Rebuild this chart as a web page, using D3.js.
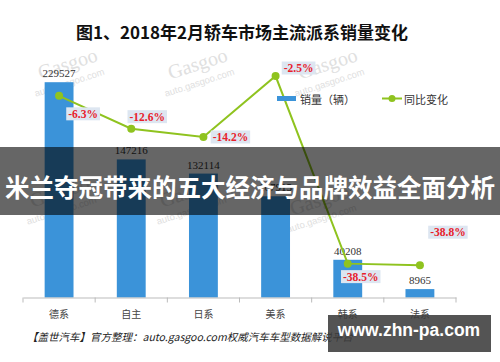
<!DOCTYPE html>
<html>
<head>
<meta charset="utf-8">
<script src="https://cdn.jsdelivr.net/npm/d3@7"></script>
<style>
  body { margin: 0; background: #fff; }
  svg { display: block; }
</style>
</head>
<body>
<div id="chart"></div>
<script>
// data
const categories = ["德系", "自主", "日系", "美系", "韩系", "法系"];
const sales = [229527, 147216, 132114, 107915, 40208, 8965];
const salesLabels = ["229527", "147216", "132114", "107915", "40208", "8965"];
const yoyChange = [-6.3, -12.6, -14.2, -2.5, -38.5, -38.8];
const yoyLabels = ["-6.3%", "-12.6%", "-14.2%", "-2.5%", "-38.5%", "-38.8%"];

// label placement relative to each point (layout only)
const yoyLabelOffset = [[24, 18], [16, -12], [27, 0], [23, -8], [13, 13], [28, -33]];

const width = 500, height = 362;
const plotLeft = 23, plotRight = 456, plotTop = 63, plotBottom = 297.5;

const svg = d3.select("#chart").append("svg")
  .attr("width", width)
  .attr("height", height);

svg.append("rect").attr("width", width).attr("height", height).attr("fill", "#fff");

// title
svg.append("text")
  .attr("x", 242).attr("y", 39)
  .attr("text-anchor", "middle")
  .attr("font-family", "Noto Sans CJK SC")
  .attr("font-weight", "bold")
  .attr("font-size", 17)
  .attr("fill", "#111")
  .text("图1、2018年2月轿车市场主流派系销量变化");

// faint gasgoo watermarks
const marks = [[68, 78], [198, 78], [328, 78], [60, 206], [190, 206], [320, 214]];
marks.forEach(m => {
  const g = svg.append("g")
    .attr("transform", `translate(${m[0]},${m[1]}) rotate(-18)`)
    .attr("fill", "#e0e0e0")
    .attr("font-family", "Liberation Sans");
  g.append("text").attr("x", 4).attr("y", -7).attr("text-anchor", "middle")
    .attr("font-size", 20).attr("font-family", "Liberation Serif").text("Gasgoo");
  g.append("text").attr("x", 0).attr("y", 8).attr("text-anchor", "middle")
    .attr("font-size", 9.5).text("auto.gasgoo.com");
});

// scales
const x = d3.scaleBand()
  .domain(categories)
  .range([plotLeft, plotRight])
  .paddingInner(0.6)
  .paddingOuter(0.3);

const yLeft = d3.scaleLinear().domain([0, 250000]).range([plotBottom, plotTop]);
const yRight = d3.scaleLinear().domain([-45, 0]).range([plotBottom, plotTop]);

const cx = d => x(d) + x.bandwidth() / 2;

// bars
svg.selectAll(".bar")
  .data(categories)
  .enter().append("rect")
  .attr("x", d => x(d))
  .attr("y", (d, i) => yLeft(sales[i]))
  .attr("width", x.bandwidth())
  .attr("height", (d, i) => plotBottom - yLeft(sales[i]))
  .attr("fill", "#3b93d9");

svg.selectAll(".barLabel")
  .data(categories)
  .enter().append("text")
  .attr("x", d => cx(d))
  .attr("y", (d, i) => yLeft(sales[i]) - 5)
  .attr("text-anchor", "middle")
  .attr("font-family", "Liberation Serif")
  .attr("font-size", 11)
  .attr("fill", "#333")
  .text((d, i) => salesLabels[i]);

// x axis
const xAxis = d3.axisBottom(x).tickSize(0).tickPadding(13);
const axisG = svg.append("g")
  .attr("transform", `translate(0,${plotBottom})`)
  .call(xAxis);
axisG.select(".domain").attr("stroke", "#bbb").attr("stroke-width", 1);
axisG.selectAll("text")
  .attr("font-family", "Noto Sans CJK SC")
  .attr("font-size", 10)
  .attr("fill", "#444");

// boundary ticks
d3.range(categories.length + 1).forEach(i => {
  const tx = plotLeft + i * x.step();
  axisG.append("line")
    .attr("x1", tx).attr("x2", tx)
    .attr("y1", 0).attr("y2", 5)
    .attr("stroke", "#bbb");
});

// yoy line
const line = d3.line()
  .x(d => cx(d))
  .y((d, i) => yRight(yoyChange[i]));

svg.append("path")
  .datum(categories)
  .attr("d", line)
  .attr("fill", "none")
  .attr("stroke", "#8fc31f")
  .attr("stroke-width", 2);

svg.selectAll(".dot")
  .data(categories)
  .enter().append("circle")
  .attr("cx", d => cx(d))
  .attr("cy", (d, i) => yRight(yoyChange[i]))
  .attr("r", 4)
  .attr("fill", "#8fc31f");

// yoy labels
categories.forEach((d, i) => {
  const lx = cx(d) + yoyLabelOffset[i][0];
  const ly = yRight(yoyChange[i]) + yoyLabelOffset[i][1];
  const t = svg.append("text")
    .attr("x", lx).attr("y", ly)
    .attr("text-anchor", "middle")
    .attr("dominant-baseline", "central")
    .attr("font-family", "Liberation Serif")
    .attr("font-weight", "bold")
    .attr("font-size", 11.5)
    .attr("fill", "#e8212b")
    .text(yoyLabels[i]);
  const b = t.node().getBBox();
  svg.insert("rect", () => t.node())
    .attr("x", b.x - 2).attr("y", ly - 6.5)
    .attr("width", b.width + 4).attr("height", 13)
    .attr("fill", "#dde6f1");
});

// legend
svg.append("rect")
  .attr("x", 277).attr("y", 96).attr("width", 19).attr("height", 5)
  .attr("fill", "#3b93d9");
svg.append("text")
  .attr("x", 300).attr("y", 98.5)
  .attr("dominant-baseline", "central")
  .attr("font-family", "Noto Sans CJK SC")
  .attr("font-size", 11)
  .attr("fill", "#333")
  .text("销量（辆）");
svg.append("line")
  .attr("x1", 382).attr("x2", 402).attr("y1", 98.5).attr("y2", 98.5)
  .attr("stroke", "#8fc31f").attr("stroke-width", 2);
svg.append("circle")
  .attr("cx", 392).attr("cy", 98.5).attr("r", 3.5).attr("fill", "#8fc31f");
svg.append("text")
  .attr("x", 404).attr("y", 98.5)
  .attr("dominant-baseline", "central")
  .attr("font-family", "Noto Sans CJK SC")
  .attr("font-size", 11)
  .attr("fill", "#333")
  .text("同比变化");

// footer
svg.append("text")
  .attr("x", 27).attr("y", 341)
  .attr("font-family", "Noto Sans CJK SC")
  .attr("font-style", "italic")
  .attr("font-size", 10.5)
  .attr("fill", "#222")
  .text("【盖世汽车】官方整理：auto.gasgoo.com权威汽车车型数据解说平台");

// overlay banner
svg.append("rect")
  .attr("x", 0).attr("y", 147).attr("width", width).attr("height", 68)
  .attr("fill", "rgba(0,0,0,0.6)");
svg.append("text")
  .attr("x", width / 2).attr("y", 186)
  .attr("text-anchor", "middle")
  .attr("dominant-baseline", "central")
  .attr("font-family", "Noto Sans CJK SC")
  .attr("font-weight", "bold")
  .attr("font-size", 24.5)
  .attr("fill", "#fff")
  .text("米兰夺冠带来的五大经济与品牌效益全面分析");

// site watermark
svg.append("rect")
  .attr("x", 328).attr("y", 315).attr("width", 163).attr("height", 37)
  .attr("fill", "rgba(60,60,60,0.88)");
svg.append("text")
  .attr("x", 409).attr("y", 330)
  .attr("text-anchor", "middle")
  .attr("dominant-baseline", "central")
  .attr("font-family", "Liberation Sans")
  .attr("font-weight", "bold")
  .attr("font-size", 17.5)
  .attr("fill", "#fff")
  .text("www.zhn-pa.com");
</script>
</body>
</html>
